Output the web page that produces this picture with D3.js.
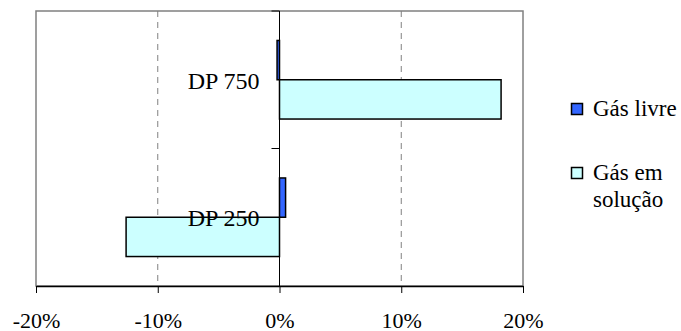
<!DOCTYPE html>
<html><head><meta charset="utf-8">
<script src="https://cdn.jsdelivr.net/npm/d3@7"></script>
<style>
html,body{margin:0;padding:0;background:#fff;}
svg{display:block;}
svg text{font-family:'Liberation Serif','Times New Roman',Times,'DejaVu Serif',serif !important;}
</style></head>
<body>
<script>
const categories = ["DP 750", "DP 250"];
const seriesNames = ["Gás livre", "Gás em solução"];
const gasLivre = [-0.2, 0.5];
const gasSolucao = [18.2, -12.6];
const xTicks = [-20, -10, 0, 10, 20];
const colors = ["#3366FF", "#CCFFFF"];

const W = 681, H = 331;
const L = 36, R = 523, T = 11, B = 286;
const FONT = "'Liberation Serif','Times New Roman',Times,serif";
const svg = d3.select("body").append("svg").attr("width", W).attr("height", H);

const x = d3.scaleLinear().domain([-20, 20]).range([L, R]);
const y0 = d3.scaleBand().domain(categories).range([T, B]).paddingInner(0).paddingOuter(0);
const y1 = d3.scaleBand().domain(seriesNames).range([0, y0.bandwidth()]).paddingInner(0).paddingOuter(0.75);

// grid lines
svg.append("g").selectAll("line").data(xTicks.filter(d => d !== 0 && Math.abs(d) !== 20)).join("line")
  .attr("x1", d => x(d)).attr("x2", d => x(d)).attr("y1", T).attr("y2", B)
  .attr("stroke", "#808080").attr("stroke-width", 1).attr("stroke-dasharray", "6,5");

// plot border (gray)
svg.append("rect").attr("x", L).attr("y", T).attr("width", R - L).attr("height", B - T)
  .attr("fill", "none").attr("stroke", "#808080").attr("stroke-width", 1.5);

// bars
const data = [];
categories.forEach((c, i) => {
  data.push({cat: c, s: seriesNames[0], v: gasLivre[i], col: colors[0]});
  data.push({cat: c, s: seriesNames[1], v: gasSolucao[i], col: colors[1]});
});
svg.append("g").selectAll("rect").data(data).join("rect")
  .attr("x", d => x(Math.min(0, d.v)))
  .attr("width", d => Math.abs(x(d.v) - x(0)))
  .attr("y", d => y0(d.cat) + y1(d.s))
  .attr("height", y1.bandwidth())
  .attr("fill", d => d.col).attr("stroke", "#000").attr("stroke-width", 1.5);

// x axis
const xAxis = d3.axisBottom(x).tickValues(xTicks).tickFormat(d => d + "%").tickSize(7).tickSizeOuter(0);
const gx = svg.append("g").attr("transform", `translate(0,${B})`).call(xAxis)
  .attr("font-family", FONT);
gx.select(".domain").attr("stroke", "#000").attr("stroke-width", 1.5);
gx.selectAll(".tick line").attr("stroke", "#000").attr("stroke-width", 1);
gx.selectAll(".tick text").attr("font-size", 22).attr("fill", "#000").attr("dy", 0).attr("y", 41.5)
  .style("font-family", FONT);

// y axis at zero
const yAxisTicks = categories.map(c => y0(c));
const gy = svg.append("g");
gy.append("line").attr("x1", x(0)).attr("x2", x(0)).attr("y1", T).attr("y2", B)
  .attr("stroke", "#000").attr("stroke-width", 1);
gy.selectAll("line.tk").data(yAxisTicks).join("line").attr("class", "tk")
  .attr("x1", x(0) - 8).attr("x2", x(0)).attr("y1", d => d).attr("y2", d => d)
  .attr("stroke", "#000").attr("stroke-width", 1);
gy.selectAll("text").data(categories).join("text")
  .attr("x", x(0) - 20).attr("y", d => y0(d) + y0.bandwidth() / 2 + 9)
  .attr("text-anchor", "end").attr("font-size", 24).attr("fill", "#000")
  .style("font-family", FONT).text(d => d);

// legend
const lg = svg.append("g");
const legendItems = [
  {lines: ["Gás livre"], col: colors[0], y: 109},
  {lines: ["Gás em", "solução"], col: colors[1], y: 173}
];
legendItems.forEach(it => {
  lg.append("rect").attr("x", 571.5).attr("y", it.y - 5.5).attr("width", 11).attr("height", 11)
    .attr("fill", it.col).attr("stroke", "#000").attr("stroke-width", 1.5);
  it.lines.forEach((ln, j) => {
    lg.append("text").attr("x", 593).attr("y", it.y + 6.5 + j * 27).attr("font-size", 23)
      .attr("fill", "#000").style("font-family", FONT).text(ln);
  });
});
</script>
</body></html>
